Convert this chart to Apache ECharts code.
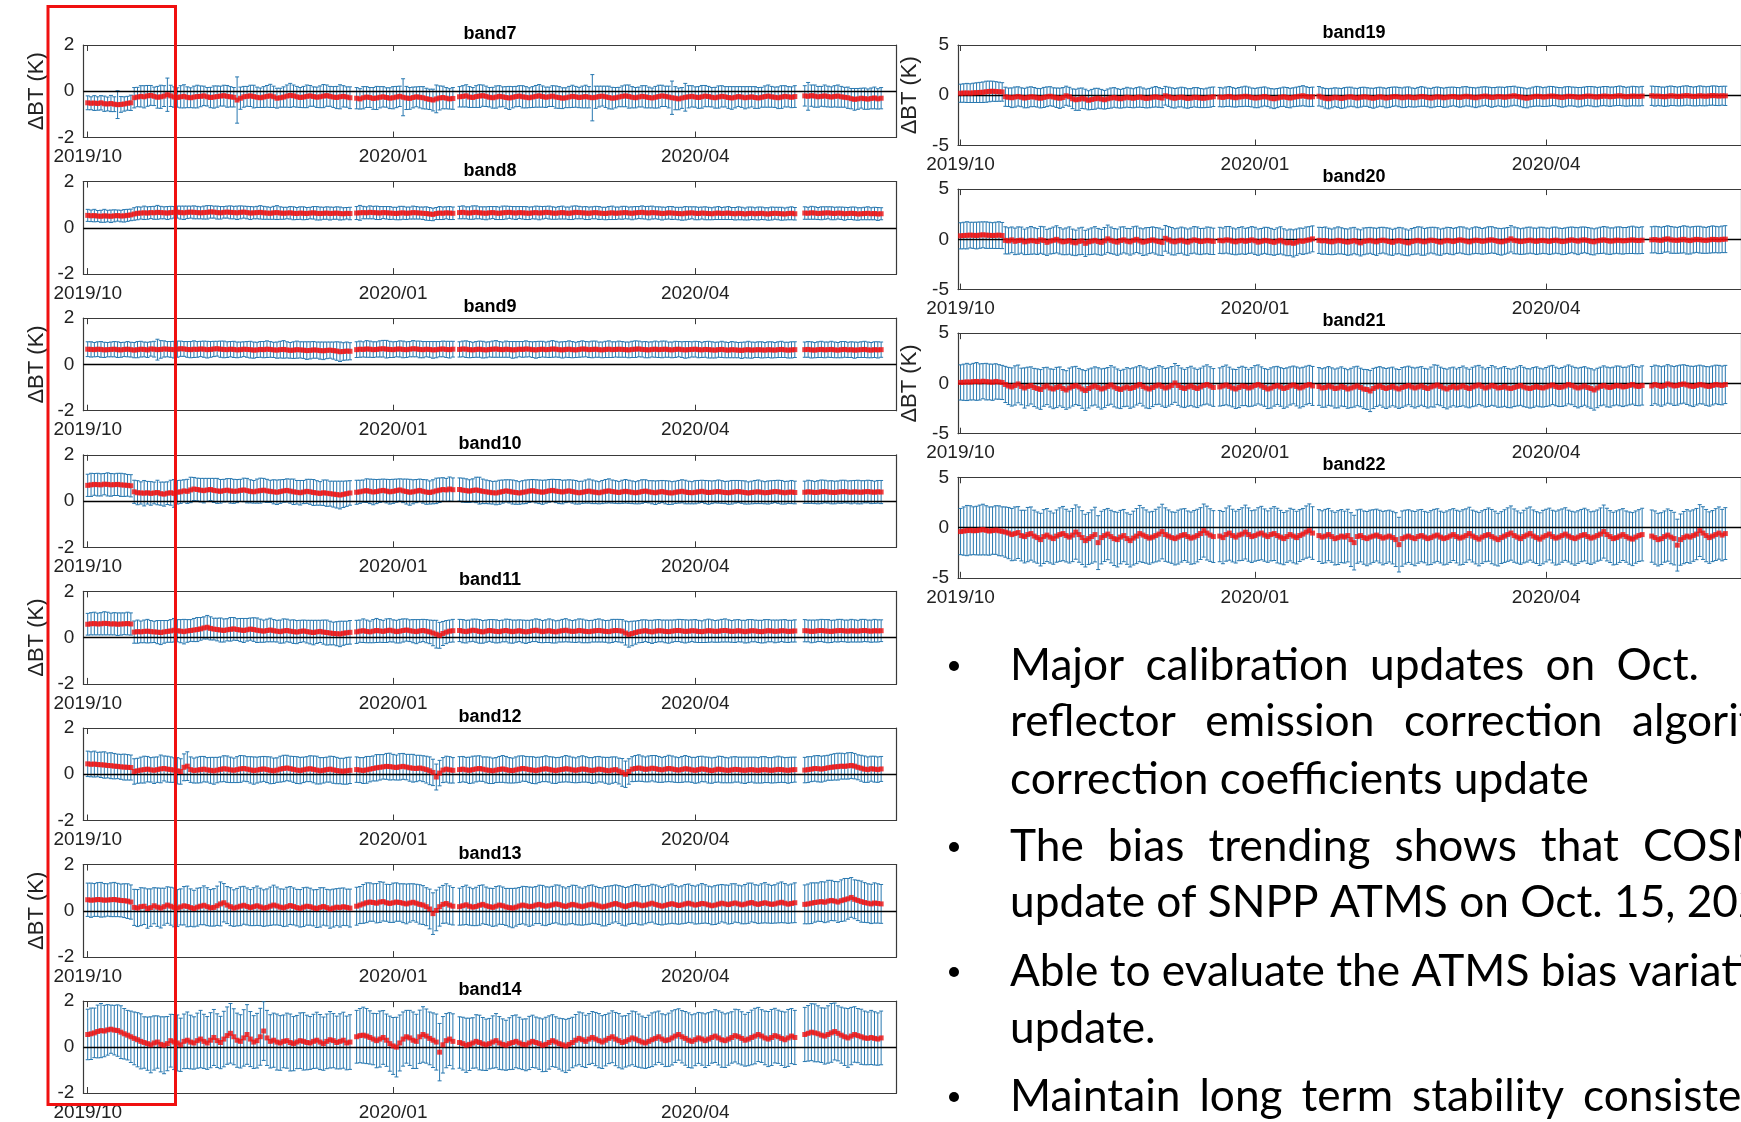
<!DOCTYPE html>
<html>
<head>
<meta charset="utf-8">
<title>ATMS bias trending</title>
<script src="https://cdn.jsdelivr.net/npm/echarts@6/dist/echarts.min.js"></script>
<style>
  html, body { margin: 0; padding: 0; background: #fff; overflow: hidden; }
  #chart { width: 1741px; height: 1122px; }
</style>
</head>
<body>
<div id="chart"></div>
<script>
// x axis = days since 2019/10/01
const tickDays = [0, 92, 183];
const tickLabels = ['2019/10', '2020/01', '2020/04'];
// days with data (gaps between runs)
const dayRuns = [[0, 79], [81, 110], [112, 213], [216, 239]];

const leftBands = ['band7', 'band8', 'band9', 'band10', 'band11', 'band12', 'band13', 'band14'];
const rightBands = ['band19', 'band20', 'band21', 'band22'];

// daily mean / half error bar, in hundredths of K
const band7Mean = [
  -50,-52,-51,-53,-50,-54,-55,-53,-56,-58,-57,-55,-52,-50,
  -28,-25,-22,-24,-20,-18,-22,-26,-24,-21,
  -15,-20,-25,-27,-24,-22,-26,-28,-25,-23,
  -22,-20,-24,-27,-25,-23,-21,-19,-22,-24,
  -26,-38,-30,-24,-22,-20,-23,-26,-28,-25,
  -22,-20,-24,-30,-28,-25,-21,-18,-20,-24,
  -27,-25,-22,-20,-23,-26,-24,-21,-19,-22,
  -25,-27,-24,-22,-25,-28,
  -30,-33,-28,-25,-27,-31,-29,-26,-24,-27,
  -30,-28,-25,-22,-26,-29,-31,-27,-24,-26,
  -28,-32,-35,-38,-33,-29,-27,-30,-33,-31,
  -24,-22,-20,-25,-27,-23,-21,-19,-22,-26,
  -28,-25,-22,-24,-27,-29,-26,-23,-21,-24,
  -26,-28,-25,-22,-20,-23,-26,-24,-21,-25,
  -27,-30,-28,-25,-22,-24,-27,-25,-23,-26,
  -28,-26,-23,-21,-24,-27,-30,-28,-25,-22,
  -20,-23,-26,-28,-25,-22,-24,-27,-29,-26,
  -23,-20,-22,-25,-28,-30,-33,-29,-26,-24,
  -22,-25,-27,-24,-21,-23,-26,-28,-25,-22,
  -24,-27,-29,-26,-23,-25,-28,-26,-24,-27,
  -29,-26,-23,-21,-24,-26,-28,-25,-22,-24,
  -26,-23,
  -20,-22,-19,-21,-24,-22,-20,-23,-25,-22,
  -21,-24,-26,-28,-32,-35,-33,-30,-32,-34,
  -31,-29,-33,-30
];
const band7Err = [
  30,28,32,29,31,33,30,35,32,60,34,31,30,33,
  44,42,46,48,45,43,40,47,50,45,
  72,46,44,42,48,50,45,43,47,49,
  45,42,40,44,48,46,43,45,47,44,
  42,100,48,45,43,46,49,44,42,45,
  47,50,46,43,41,44,48,52,47,45,
  43,46,49,45,42,44,47,50,46,43,
  45,48,52,46,44,47,
  46,44,48,45,43,47,50,46,44,42,
  45,48,46,44,80,50,47,45,43,46,
  48,45,44,47,60,52,49,46,44,47,
  44,46,48,45,43,47,49,46,44,42,
  45,48,46,43,47,50,46,44,45,48,
  46,43,45,47,49,46,44,42,45,48,
  47,45,43,46,48,45,44,47,49,46,
  100,48,45,43,46,49,47,44,42,45,
  47,50,46,44,43,46,48,45,43,47,
  49,46,44,47,72,50,47,45,60,48,
  46,44,47,49,46,44,42,45,48,46,
  44,47,49,46,43,45,48,46,44,47,
  45,43,46,48,45,44,47,49,46,44,
  45,47,
  44,60,46,48,45,43,47,45,44,46,
  48,45,43,46,44,47,45,43,46,44,
  45,47,44,46
];

const band8Mean = [
  54,52,53,51,50,52,51,50,52,53,51,52,54,56,
  60,63,64,65,64,66,65,67,66,65,
  64,66,67,68,66,65,67,68,67,66,
  65,66,67,69,68,66,65,67,68,67,
  66,65,67,68,66,64,65,66,67,65,
  64,63,65,66,64,63,64,65,63,62,
  64,63,62,64,65,63,62,63,64,62,
  63,64,62,61,63,62,
  64,65,66,65,67,66,65,64,66,65,
  64,63,62,64,65,63,64,66,65,64,
  63,62,60,58,62,64,63,65,64,63,
  66,67,65,64,66,67,65,64,63,65,
  66,64,63,65,66,67,65,64,66,65,
  64,63,65,66,64,65,67,66,64,63,
  65,66,64,63,65,67,66,65,64,63,
  65,66,64,63,62,64,65,63,64,65,
  66,64,63,65,66,67,65,64,66,65,
  64,62,63,65,64,63,62,61,63,64,
  65,63,62,64,63,62,61,63,64,62,
  63,64,62,61,63,62,60,62,63,61,
  62,63,61,60,62,63,62,61,60,62,
  63,61,
  64,63,65,64,62,63,64,65,63,62,
  64,63,61,62,63,62,60,61,62,63,
  61,62,60,61
];
const band8Err = [
  26,25,27,24,26,28,25,27,26,24,25,27,26,25,
  27,28,26,29,27,26,28,30,27,26,
  28,27,25,26,28,29,27,26,28,27,
  26,28,29,27,26,28,27,25,26,28,
  27,29,28,26,27,28,26,27,29,28,
  27,26,28,30,27,26,25,27,28,26,
  27,28,26,25,27,29,28,26,27,28,
  26,27,28,26,25,27,
  28,32,27,26,28,27,29,28,26,27,
  28,26,27,29,28,27,26,28,27,26,
  27,29,28,27,26,28,27,26,28,27,
  27,28,26,27,29,28,26,27,28,27,
  26,28,27,29,28,26,27,28,26,27,
  28,27,26,28,29,27,26,28,27,26,
  27,28,26,27,29,28,27,26,28,27,
  26,27,28,26,27,28,29,27,26,28,
  27,26,28,27,26,28,27,29,28,26,
  27,28,26,27,28,26,27,28,29,27,
  26,28,27,26,28,27,26,27,28,26,
  27,28,26,27,28,27,26,28,27,26,
  28,27,26,27,28,26,27,28,26,27,
  28,27,
  27,26,28,27,26,28,27,26,28,27,
  26,27,28,26,27,28,27,26,27,28,
  26,27,28,26
];

const band9Mean = [
  66,65,64,66,65,63,64,65,66,64,63,65,66,64,
  62,64,66,65,63,67,66,64,65,67,
  66,65,64,66,68,67,65,64,66,65,
  67,66,64,65,67,68,66,65,64,66,
  65,63,64,66,65,64,62,63,65,64,
  66,65,63,62,64,65,63,61,62,64,
  63,62,60,61,63,62,60,59,61,62,
  60,58,55,56,58,57,
  64,66,65,67,66,64,65,67,68,66,
  65,64,66,67,65,64,66,68,67,65,
  64,66,65,63,64,66,67,65,64,66,
  65,67,66,64,63,65,66,64,63,65,
  66,67,65,64,66,65,63,64,66,65,
  67,66,64,63,65,66,64,65,67,66,
  64,63,65,66,64,63,65,67,66,64,
  65,66,64,63,65,66,64,65,66,65,
  64,63,65,66,67,65,64,63,65,66,
  64,65,66,64,63,65,66,64,63,64,
  65,66,64,63,65,64,63,62,64,65,
  63,62,64,63,62,61,63,64,62,63,
  64,63,62,64,63,62,64,65,63,62,
  63,64,
  64,65,63,62,64,65,63,64,65,63,
  62,64,65,63,64,62,63,64,65,63,
  62,64,63,64
];
const band9Err = [
  32,33,31,32,34,33,31,32,33,34,32,31,33,32,
  33,35,34,32,33,31,34,45,38,35,
  33,34,36,35,33,32,34,35,36,34,
  33,35,36,34,33,32,35,36,34,33,
  35,34,33,32,34,36,35,33,34,35,
  36,34,33,35,36,38,35,34,36,37,
  35,36,38,37,36,35,37,38,36,35,
  37,40,42,38,39,37,
  34,35,33,36,35,34,33,35,36,38,
  35,34,33,35,36,34,33,35,34,36,
  35,33,34,36,35,33,34,35,36,34,
  33,34,36,35,33,34,35,36,34,33,
  35,36,34,33,35,34,36,35,33,34,
  35,33,34,36,35,34,33,35,36,34,
  33,35,34,36,35,33,34,35,33,34,
  36,35,33,34,35,36,34,33,35,34,
  33,34,35,36,34,33,35,34,33,35,
  34,36,35,33,34,35,33,34,36,35,
  33,34,35,33,34,36,35,34,33,35,
  34,33,35,34,33,35,34,36,35,33,
  34,35,33,34,35,33,34,35,33,34,
  35,34,
  33,34,35,33,34,35,34,33,35,34,
  33,35,34,33,34,35,33,34,35,34,
  33,34,35,33
];

const band10Mean = [
  68,70,72,71,70,73,72,70,71,72,70,69,68,66,
  40,36,35,34,36,33,35,37,32,30,
  34,36,33,38,40,44,42,48,52,50,
  47,45,48,50,46,44,42,45,47,44,
  42,43,46,48,45,42,40,43,45,47,
  44,42,40,38,41,44,46,43,40,38,
  36,39,42,40,37,35,33,36,34,32,
  30,28,26,29,32,35,
  38,40,43,45,42,39,41,44,46,43,
  40,42,45,48,44,41,38,40,43,46,
  42,39,37,40,44,47,50,48,52,49,
  50,47,45,43,46,48,45,42,40,38,
  36,35,38,41,44,42,39,37,35,38,
  40,43,45,42,40,38,41,44,46,43,
  41,39,42,44,41,38,36,38,41,43,
  40,38,36,39,42,44,41,39,37,40,
  42,40,38,36,38,41,43,40,38,36,
  39,41,38,36,35,38,40,42,39,37,
  36,38,40,42,39,37,38,40,41,39,
  37,36,38,40,41,39,37,35,37,39,
  40,38,36,37,39,41,40,38,36,38,
  39,37,
  38,40,39,37,38,40,41,39,38,37,
  39,40,41,39,38,40,39,38,40,41,
  39,38,40,39
];
const band10Err = [
  48,50,47,49,48,46,50,49,47,48,50,49,47,48,
  50,52,48,55,49,51,47,53,50,52,
  49,54,60,51,50,48,52,55,50,49,
  51,53,50,48,52,54,51,49,50,53,
  52,50,48,51,53,50,49,52,54,51,
  50,48,52,53,51,49,50,52,55,51,
  53,50,52,54,56,53,51,55,57,54,
  56,58,60,57,55,53,
  52,50,48,51,53,55,52,50,49,51,
  53,52,50,48,51,54,56,52,50,49,
  51,53,50,52,55,53,51,50,52,51,
  50,52,51,49,50,55,58,53,51,50,
  49,51,52,50,48,50,52,51,49,50,
  51,49,48,50,51,52,50,49,48,50,
  52,51,49,48,50,51,49,48,50,52,
  51,49,48,50,51,52,50,49,48,50,
  51,50,49,48,50,51,49,48,50,51,
  49,48,50,51,49,48,49,50,51,49,
  48,50,49,48,50,51,49,48,50,49,
  48,50,51,49,48,49,50,48,49,50,
  51,49,48,50,49,48,50,51,49,48,
  50,49,
  48,50,49,48,50,51,49,48,50,49,
  48,50,49,48,50,49,51,50,48,49,
  50,48,49,50
];

const band11Mean = [
  58,60,61,59,60,62,61,59,60,58,59,60,61,59,
  24,26,25,27,28,26,25,24,22,25,
  27,29,32,30,28,26,29,31,33,35,
  38,42,45,40,37,35,33,31,34,36,
  38,35,33,31,34,37,35,32,30,28,
  31,33,30,28,26,29,31,28,26,24,
  27,29,26,24,22,25,27,24,22,20,
  18,17,16,19,21,23,
  25,28,30,27,25,28,31,29,27,30,
  32,29,26,28,31,33,30,28,26,29,
  31,28,25,20,15,10,18,24,28,30,
  31,28,26,29,32,30,27,25,28,31,
  29,27,26,29,31,28,26,28,30,27,
  25,27,30,32,29,26,28,30,27,25,
  28,30,32,29,27,28,31,29,27,26,
  28,30,31,29,27,26,29,31,30,28,
  20,14,18,22,26,28,30,27,25,28,
  30,29,27,26,28,30,31,29,27,28,
  30,29,27,26,28,30,29,27,28,30,
  31,29,27,28,30,28,26,28,30,29,
  27,26,28,30,29,27,28,30,29,27,
  28,29,
  30,29,27,28,30,31,29,28,27,29,
  30,31,29,28,30,29,28,30,31,29,
  28,30,29,30
];
const band11Err = [
  47,48,49,47,48,50,49,47,48,49,48,47,49,48,
  48,50,47,49,51,48,46,50,52,49,
  47,49,51,48,50,53,49,47,50,52,
  49,48,51,50,47,49,52,50,48,51,
  49,47,50,52,49,48,51,53,50,48,
  49,51,48,47,50,52,49,48,51,50,
  48,47,49,51,53,50,48,52,54,51,
  49,52,55,52,50,51,
  50,48,51,49,47,50,52,49,48,51,
  50,48,49,51,50,48,47,50,52,49,
  48,50,51,55,60,56,52,50,48,49,
  48,50,49,47,48,50,51,49,48,47,
  49,50,48,47,49,51,50,48,47,49,
  50,48,47,49,50,48,49,51,50,48,
  47,49,50,48,47,49,50,51,49,48,
  47,49,50,48,47,49,50,48,49,50,
  52,55,53,50,48,49,47,48,50,49,
  48,47,49,50,48,47,48,49,50,48,
  47,49,48,47,49,50,48,47,48,49,
  50,48,47,49,48,47,49,50,48,47,
  48,49,50,48,47,49,48,47,49,48,
  47,48,
  48,47,49,48,47,48,49,50,48,47,
  49,48,47,48,49,48,47,49,48,47,
  48,49,48,47
];

const band12Mean = [
  45,43,44,42,41,40,38,37,35,34,32,31,30,29,
  12,15,18,20,22,19,17,20,23,25,
  22,20,18,15,12,30,35,20,16,18,
  20,22,19,17,15,18,21,24,22,19,
  17,20,23,25,22,19,16,18,21,23,
  20,17,15,18,22,25,27,24,21,18,
  16,19,22,24,21,18,15,17,20,22,
  19,16,14,13,15,17,
  20,18,16,19,22,25,28,30,32,34,
  33,31,29,32,34,31,28,26,25,27,
  24,20,15,8,-12,5,18,22,19,17,
  20,22,19,17,20,23,25,22,19,17,
  15,18,21,23,20,17,16,19,22,25,
  23,20,18,16,19,22,24,21,18,16,
  19,21,24,22,19,17,20,23,21,18,
  16,19,22,20,17,15,18,20,14,8,
  0,12,22,25,27,24,21,23,26,24,
  21,19,22,25,23,20,18,21,24,22,
  19,17,20,23,21,18,16,19,22,20,
  18,17,19,21,20,18,17,19,20,18,
  17,19,20,18,17,19,21,20,18,17,
  19,20,
  18,20,22,25,24,22,25,28,30,32,
  33,35,34,36,38,35,30,26,22,20,
  24,22,20,23
];
const band12Err = [
  55,54,56,53,55,57,54,56,55,53,54,56,55,54,
  55,54,56,58,55,53,57,55,60,54,
  56,55,53,57,55,58,62,55,54,56,
  57,55,53,56,58,55,54,56,57,55,
  53,56,58,55,54,57,59,56,55,54,
  56,58,55,53,56,57,55,54,56,58,
  57,55,54,56,58,60,57,55,54,56,
  58,57,55,56,58,57,
  55,54,56,58,55,54,57,55,53,56,
  58,55,54,57,56,55,58,60,57,55,
  56,58,60,57,56,55,54,56,57,55,
  56,55,54,57,58,56,55,53,56,57,
  55,54,56,58,57,55,54,56,57,55,
  54,56,58,57,55,54,56,55,57,56,
  54,55,57,56,55,54,56,57,55,54,
  56,57,55,54,56,58,57,55,56,60,
  57,55,54,56,57,55,54,56,55,57,
  56,54,55,57,56,55,54,56,57,55,
  54,56,57,55,54,56,55,54,56,57,
  55,54,56,55,54,56,57,55,54,56,
  55,57,56,54,55,56,57,55,54,56,
  55,54,
  55,56,54,55,57,56,55,54,56,57,
  58,56,55,57,56,55,54,56,57,55,
  54,56,55,54
];

const band13Mean = [
  48,46,47,49,48,46,47,48,49,47,45,44,42,38,
  15,12,18,20,10,14,22,16,12,18,
  25,20,15,12,17,22,19,14,10,16,
  20,24,18,13,15,22,30,35,25,18,
  12,16,20,24,19,14,18,22,17,12,
  15,20,25,21,16,13,18,23,19,14,
  11,16,20,18,13,10,15,19,14,8,
  12,16,14,18,15,12,
  20,25,30,35,38,36,33,38,40,35,
  32,35,38,36,33,30,34,37,33,28,
  25,18,8,-12,2,18,28,32,25,20,
  18,22,26,20,16,19,24,28,22,18,
  15,20,25,22,17,14,12,16,21,25,
  22,18,20,25,28,24,20,22,26,30,
  27,22,19,24,28,25,21,18,22,26,
  29,25,21,17,20,24,28,32,27,22,
  18,23,27,30,26,22,25,29,33,28,
  24,20,24,28,31,27,23,26,30,33,
  29,25,28,32,30,26,22,25,29,33,
  30,27,31,34,30,26,29,33,36,31,
  28,32,35,31,28,30,34,37,33,29,
  32,35,
  28,30,33,36,38,40,37,42,45,42,
  38,44,48,52,58,50,45,40,36,33,
  30,34,32,30
];
const band13Err = [
  72,74,71,73,75,72,70,73,74,72,71,73,75,74,
  78,80,82,79,85,81,78,83,86,80,
  79,82,84,80,78,83,88,81,79,82,
  80,84,82,79,81,85,95,83,80,82,
  79,81,84,82,80,78,82,85,81,79,
  80,83,86,82,79,81,84,82,80,79,
  81,84,82,80,78,82,85,81,79,83,
  82,80,84,81,79,82,
  82,80,84,86,83,81,85,88,84,80,
  82,85,83,81,84,86,83,80,82,85,
  84,82,86,90,88,84,82,85,83,81,
  80,83,85,82,80,83,86,84,81,80,
  82,85,83,81,80,83,85,82,80,81,
  83,85,82,80,83,86,84,81,80,82,
  84,82,80,81,83,85,82,80,82,84,
  83,81,80,82,85,83,81,80,82,84,
  83,81,82,84,86,83,81,80,82,84,
  83,81,82,84,85,83,81,82,84,83,
  81,82,84,86,83,81,82,84,83,81,
  82,84,86,83,81,82,85,87,84,82,
  83,85,87,84,82,83,86,88,85,83,
  84,86,
  84,86,88,85,83,86,88,90,87,85,
  88,90,92,88,86,84,87,89,86,84,
  85,87,85,84
];

const band14Mean = [
  55,58,62,68,72,70,75,78,74,72,65,58,52,45,
  38,32,25,20,15,10,18,22,12,8,
  15,28,22,18,10,25,30,22,18,28,
  35,25,18,30,42,28,20,35,50,60,
  45,30,25,40,55,35,22,28,45,70,
  40,25,30,22,18,25,28,20,15,22,
  28,25,20,18,25,30,22,15,25,32,
  28,20,25,30,18,22,
  45,50,52,48,42,35,28,35,42,30,
  15,5,0,18,35,45,40,30,25,45,
  55,48,38,30,22,-22,10,28,35,25,
  20,15,8,12,18,25,20,14,10,15,
  22,28,18,12,8,15,20,25,18,12,
  10,18,25,20,15,8,12,20,28,22,
  15,10,5,12,20,30,38,32,25,35,
  42,35,28,22,30,38,45,35,28,20,
  25,32,40,35,28,22,18,25,32,38,
  45,35,28,32,40,48,55,45,38,30,
  25,32,40,35,28,35,42,48,40,32,
  28,35,42,50,45,38,30,35,42,48,
  55,48,40,35,42,50,45,38,32,40,
  48,42,
  55,60,65,62,58,52,48,55,62,68,
  60,52,45,40,48,55,50,45,40,38,
  42,38,35,40
];
const band14Err = [
  110,112,108,115,118,112,110,105,108,112,115,110,108,112,
  115,118,120,112,116,122,118,114,120,124,
  118,115,120,122,116,119,123,117,114,120,
  125,118,115,120,122,117,114,121,125,130,
  122,118,116,123,130,120,115,119,124,128,
  120,116,118,122,119,115,120,124,118,116,
  121,125,119,115,118,122,120,116,119,123,
  118,115,120,122,117,119,
  115,118,122,120,116,112,118,122,117,114,
  120,124,130,122,118,115,120,123,118,116,
  121,118,115,119,122,125,123,118,115,120,
  112,115,118,114,110,116,119,115,112,110,
  114,118,115,111,109,113,117,115,112,110,
  113,116,114,111,112,115,118,116,113,110,
  111,114,116,113,110,112,115,117,114,111,
  113,116,118,115,112,110,113,116,118,115,
  112,114,117,119,116,113,111,114,117,115,
  112,110,113,116,118,115,112,114,117,119,
  116,113,111,114,117,115,112,115,118,120,
  117,114,112,115,118,116,113,116,119,121,
  118,115,117,120,122,119,116,118,121,124,
  120,118,
  118,121,124,126,122,119,122,125,128,124,
  120,122,125,128,125,121,118,120,117,115,
  118,116,114,117
];

const band19Mean = [
  20,22,23,21,24,26,28,30,35,38,40,37,35,33,
  -15,-20,-25,-18,-12,-20,-28,-22,-15,-18,
  -25,-30,-22,-15,-10,-18,-25,-30,-22,-5,
  -15,-35,-45,-40,-30,-38,-50,-42,-35,-30,
  -38,-45,-35,-28,-22,-30,-35,-28,-20,-25,
  -30,-22,-18,-25,-32,-28,-20,-15,-22,-28,
  -5,-15,-25,-30,-22,-18,-25,-32,-28,-20,
  -22,-28,-30,-25,-20,-15,
  -18,-22,-15,-12,-20,-25,-18,-15,-10,-15,
  -22,-28,-25,-18,-12,-20,-30,-35,-28,-20,
  -15,-22,-28,-20,-15,-10,-5,-12,-18,-15,
  -10,-20,-30,-35,-28,-20,-25,-32,-25,-18,
  -15,-22,-28,-20,-15,-18,-25,-30,-22,-15,
  -20,-28,-22,-15,-12,-18,-25,-20,-15,-22,
  -25,-18,-12,-15,-22,-28,-20,-15,-18,-25,
  -20,-15,-12,-18,-22,-15,-10,-15,-20,-25,
  -18,-12,-8,-15,-22,-18,-12,-15,-20,-15,
  -10,-5,-12,-18,-25,-30,-22,-15,-10,-12,
  -18,-15,-10,-8,-12,-18,-22,-15,-10,-12,
  -15,-20,-18,-12,-8,-10,-15,-18,-12,-8,
  -10,-15,-12,-8,-5,-10,-15,-12,-8,-10,
  -12,-8,
  -5,-10,-8,-12,-15,-10,-5,-8,-12,-10,
  -6,-3,-8,-12,-10,-5,-8,-10,-6,-3,
  -5,-8,-5,-6
];
const band19Err = [
  90,92,95,93,96,98,100,102,105,103,100,98,95,92,
  95,92,98,100,96,94,97,102,99,95,
  93,96,100,98,95,92,97,101,98,95,
  94,98,105,110,102,98,95,100,104,99,
  96,93,97,100,98,95,93,96,99,97,
  95,98,101,97,94,96,99,102,98,95,
  93,96,99,97,95,98,100,97,94,96,
  98,95,93,96,99,97,
  96,94,97,99,96,93,95,98,100,97,
  94,96,99,97,95,93,96,98,95,93,
  96,99,97,94,96,98,100,97,95,96,
  97,95,98,100,97,94,96,99,101,98,
  95,93,96,98,95,93,96,99,97,95,
  94,97,99,96,94,96,98,101,98,95,
  93,96,98,95,93,96,98,97,94,96,
  98,95,93,95,97,99,96,94,96,98,
  97,95,93,96,98,95,94,96,98,100,
  97,95,93,96,98,95,94,96,98,96,
  94,96,98,95,93,95,97,99,96,94,
  95,97,96,94,95,97,99,96,94,95,
  97,96,94,95,97,96,94,95,97,96,
  95,96,
  96,98,95,94,96,98,97,95,94,96,
  98,97,95,94,96,98,97,95,94,96,
  97,95,94,96
];

const band20Mean = [
  35,38,40,42,40,38,42,45,42,40,38,40,42,38,
  -10,-15,-5,-20,-12,-8,-25,-18,-10,-15,
  -22,-5,-12,-30,-18,-10,0,-15,-25,-20,
  -12,-28,-35,-20,-15,-40,-25,-18,-10,-22,
  -30,-15,5,-10,-20,-28,-12,-5,-18,-25,
  -10,0,-15,-28,-20,-12,-5,-15,-22,-30,
  10,-5,-18,-25,-15,-8,-20,-28,-15,-5,
  -12,-22,-18,-10,-15,-20,
  -10,-15,-5,-8,-18,-25,-15,-10,-20,-12,
  -5,-15,-28,-20,-10,-15,-22,-30,-18,-10,
  -25,-35,-30,-40,-28,-15,-20,-10,-5,5,
  -10,-15,-12,-20,-25,-18,-10,-15,-22,-28,
  -20,-12,-25,-35,-20,-15,-10,-18,-25,-12,
  -8,-15,-22,-30,-18,-12,-20,-28,-35,-22,
  -15,-10,-18,-25,-15,-8,-12,-20,-28,-18,
  -10,-15,-22,-12,-5,-10,-18,-25,-15,-8,
  -12,-20,-15,-8,-5,-12,-20,-25,-18,-10,
  5,-10,-15,-22,-18,-12,-8,-15,-20,-12,
  -10,-15,-20,-12,-8,-15,-22,-18,-10,-5,
  -12,-18,-8,-5,-12,-20,-25,-15,-10,-5,
  -12,-18,-15,-8,-10,-15,-12,-8,-5,-10,
  -12,-8,
  -5,-2,-8,-10,0,5,-5,-8,-10,-5,
  0,-8,-12,-5,0,-3,-8,-10,-5,0,
  -2,-5,0,2
];
const band20Err = [
  130,132,135,128,130,133,131,129,132,130,128,131,133,130,
  135,130,128,132,136,130,127,133,138,131,
  129,134,137,130,128,132,135,131,128,133,
  136,130,127,133,135,130,128,132,136,131,
  129,133,137,132,128,131,135,130,127,132,
  135,131,128,133,136,130,129,132,135,131,
  128,132,136,131,127,130,134,131,128,132,
  135,130,128,133,135,131,
  130,128,132,136,131,129,133,135,130,128,
  132,135,131,128,130,134,131,129,132,135,
  130,128,132,135,131,128,130,133,131,129,
  130,133,135,131,128,132,134,130,128,131,
  134,131,128,130,133,131,129,132,135,131,
  128,130,133,130,128,131,134,131,128,130,
  132,135,140,133,130,128,132,135,131,128,
  130,133,131,128,130,133,131,128,130,132,
  131,128,130,133,131,128,130,132,130,128,
  131,133,130,128,130,132,130,128,131,133,
  130,128,131,133,130,128,130,132,130,128,
  131,134,131,128,130,132,130,128,131,133,
  135,132,129,131,134,132,130,133,136,133,
  131,133,
  130,132,134,131,128,130,133,131,129,132,
  135,138,134,131,130,133,131,129,132,134,
  131,130,132,134
];

const band21Mean = [
  10,12,15,13,18,20,15,22,18,15,12,20,15,10,
  -10,-25,-35,-20,-5,-30,-45,-30,-20,-40,
  -50,-60,-35,-25,-45,-55,-40,-30,-50,-65,
  -45,-30,-20,-35,-55,-70,-50,-35,-25,-40,
  -55,-45,-30,-15,-35,-50,-60,-45,-35,-50,
  -40,-25,-10,-30,-45,-55,-40,-25,-15,-30,
  -45,-35,-20,5,-20,-40,-50,-35,-25,-40,
  -50,-35,-20,-10,-25,-40,
  -35,-25,-15,-30,-45,-55,-40,-25,-30,-45,
  -35,-20,-10,-25,-40,-55,-45,-30,-20,-35,
  -50,-40,-25,-15,-30,-45,-35,-20,-10,-25,
  -30,-45,-40,-25,-35,-50,-45,-30,-40,-55,
  -45,-35,-25,-40,-55,-60,-75,-50,-35,-25,
  -40,-50,-40,-30,-45,-55,-40,-30,-20,-35,
  -45,-35,-25,-40,-50,-35,-25,-15,-30,-45,
  -55,-40,-30,-45,-35,-25,-40,-50,-35,-25,
  -15,-30,-45,-35,-20,-30,-45,-40,-30,-45,
  -50,-40,-30,-20,-35,-45,-50,-40,-30,-40,
  -45,-35,-25,-15,-30,-40,-35,-25,-10,-20,
  -35,-45,-35,-25,-40,-50,-65,-45,-30,-20,
  -35,-40,-30,-20,-25,-35,-30,-20,-10,-25,
  -30,-20,
  -25,-10,-20,-30,-20,-5,-15,-25,-20,-10,
  -5,-15,-25,-30,-20,-10,-15,-25,-30,-20,
  -10,-15,-20,-10
];
const band21Err = [
  175,180,185,178,182,188,180,175,182,178,180,176,172,170,
  180,185,190,195,188,182,200,192,185,190,
  195,198,192,186,190,196,200,194,188,192,
  198,195,190,185,192,198,194,188,190,196,
  200,195,188,192,198,194,190,186,192,197,
  195,190,188,194,199,195,190,186,192,196,
  194,190,188,193,198,194,190,192,196,193,
  190,188,192,195,191,188,
  190,195,198,192,188,194,200,196,190,186,
  192,197,194,190,188,195,200,196,190,192,
  198,195,190,188,194,199,196,192,190,194,
  188,192,196,193,190,194,198,195,190,192,
  196,200,196,192,195,198,205,200,195,192,
  196,199,195,192,190,194,198,195,192,196,
  199,196,192,190,194,198,210,196,192,195,
  198,195,192,190,194,198,195,192,196,199,
  195,192,190,194,198,195,192,195,198,195,
  192,190,194,198,196,192,195,198,195,192,
  190,194,198,195,192,190,194,197,194,192,
  195,198,195,192,194,197,200,196,192,195,
  198,196,192,194,197,195,192,194,196,194,
  192,195,
  194,192,195,197,194,192,190,194,196,193,
  191,194,197,200,195,192,190,193,196,194,
  192,195,193,190
];

const band22Mean = [
  -40,-35,-30,-28,-32,-30,-25,-20,-28,-35,-30,-25,-32,-38,
  -45,-55,-70,-60,-50,-80,-90,-70,-60,-85,
  -100,-120,-90,-75,-95,-110,-85,-70,-60,-80,
  -95,-75,-45,-70,-100,-130,-110,-90,-70,-150,
  -100,-80,-65,-90,-110,-120,-95,-80,-110,-130,
  -105,-85,-60,-75,-90,-105,-95,-80,-65,-40,
  -70,-85,-100,-110,-95,-80,-70,-90,-105,-95,
  -80,-60,-30,-55,-75,-90,
  -85,-100,-70,-55,-80,-95,-75,-65,-45,-70,
  -90,-80,-65,-55,-75,-90,-70,-60,-80,-95,
  -110,-90,-70,-85,-100,-80,-65,-45,-30,-55,
  -80,-95,-85,-70,-90,-110,-100,-85,-95,-80,
  -120,-150,-90,-80,-100,-110,-95,-85,-75,-90,
  -105,-95,-85,-100,-120,-170,-110,-95,-85,-100,
  -110,-90,-80,-95,-110,-100,-85,-75,-95,-110,
  -100,-85,-70,-90,-105,-95,-80,-60,-85,-100,
  -115,-95,-80,-70,-90,-105,-120,-100,-85,-70,
  -55,-80,-95,-110,-90,-75,-60,-85,-100,-115,
  -95,-80,-65,-90,-105,-95,-80,-65,-85,-100,
  -110,-95,-80,-70,-90,-105,-95,-80,-65,-40,
  -70,-90,-110,-100,-85,-70,-90,-105,-115,-95,
  -80,-70,
  -85,-100,-120,-110,-90,-75,-95,-110,-175,-120,
  -100,-85,-95,-80,-65,-30,-55,-80,-100,-85,
  -70,-55,-75,-60
];
const band22Err = [
  230,240,250,245,238,242,248,252,245,240,236,242,248,244,
  250,255,260,265,258,252,262,270,265,258,
  255,262,268,264,258,255,260,266,270,262,
  258,264,270,275,268,262,258,265,272,268,
  262,258,255,262,268,272,266,260,256,262,
  268,274,280,272,265,260,256,262,268,272,
  266,260,256,262,268,264,258,255,260,265,
  262,258,264,268,262,258,
  255,260,265,270,262,258,255,262,268,265,
  258,255,262,266,260,256,262,268,272,266,
  260,256,262,266,262,258,255,260,265,262,
  258,262,266,260,256,262,268,264,258,262,
  268,272,266,262,265,270,268,262,258,262,
  266,262,258,262,268,272,275,268,262,266,
  270,265,260,256,262,268,266,262,258,262,
  265,262,258,262,268,272,266,262,258,262,
  266,262,260,265,270,268,262,258,262,266,
  270,265,260,256,262,268,265,260,258,262,
  266,262,258,262,268,270,265,262,258,262,
  265,262,260,262,266,262,258,255,260,264,
  262,258,262,266,262,258,255,260,264,260,
  258,262,
  260,265,262,258,255,260,265,262,258,255,
  260,263,260,256,255,258,262,260,256,254,
  258,260,256,258
];

// ---- layout ----
const LEFT = { x: 83.4, w: 813, top: 45, step: 136.6, h: 92.5, ymax: 2, xmin: -1.3, xmax: 243.6, nameX: 37, titleGap: 11 };
const RIGHT = { x: 958, w: 792, top: 45, step: 144.1, h: 100.5, ymax: 5, xmin: -0.8, xmax: 243.9, nameX: 910, titleGap: 12 };

const days = [];
dayRuns.forEach(function (r) { for (let d = r[0]; d <= r[1]; d++) days.push(d); });

const panels = [
  { mean: band7Mean, err: band7Err }, { mean: band8Mean, err: band8Err },
  { mean: band9Mean, err: band9Err }, { mean: band10Mean, err: band10Err },
  { mean: band11Mean, err: band11Err }, { mean: band12Mean, err: band12Err },
  { mean: band13Mean, err: band13Err }, { mean: band14Mean, err: band14Err },
  { mean: band19Mean, err: band19Err }, { mean: band20Mean, err: band20Err },
  { mean: band21Mean, err: band21Err }, { mean: band22Mean, err: band22Err }
];
panels.forEach(function (p, i) {
  const isLeft = i < leftBands.length;
  p.name = isLeft ? leftBands[i] : rightBands[i - leftBands.length];
  p.row = isLeft ? i : i - leftBands.length;
  p.L = isLeft ? LEFT : RIGHT;
});

const labelFont = '"Liberation Sans", Arial, sans-serif';
const axisColor = '#3a3a3a';
const barColor = '#2878b0';
const dotColor = '#f01010';

function renderErrorBar(params, api) {
  const x = api.value(0);
  const hi = api.coord([x, api.value(2)]);
  const lo = api.coord([x, api.value(1)]);
  const c = 2;
  return {
    type: 'group',
    children: [
      { type: 'line', shape: { x1: hi[0], y1: hi[1], x2: lo[0], y2: lo[1] }, style: { stroke: barColor, lineWidth: 1 } },
      { type: 'line', shape: { x1: hi[0] - c, y1: hi[1], x2: hi[0] + c, y2: hi[1] }, style: { stroke: barColor, lineWidth: 1 } },
      { type: 'line', shape: { x1: lo[0] - c, y1: lo[1], x2: lo[0] + c, y2: lo[1] }, style: { stroke: barColor, lineWidth: 1 } }
    ]
  };
}

const grid = [], xAxis = [], yAxis = [], series = [], graphics = [];

panels.forEach(function (p, i) {
  const L = p.L;
  const top = L.top + L.step * p.row;
  grid.push({ left: L.x, top: top, width: L.w, height: L.h });

  const xBase = {
    type: 'value', gridIndex: i, min: L.xmin, max: L.xmax,
    splitLine: { show: false },
    axisLine: { onZero: false, lineStyle: { color: axisColor, width: 1.2 } },
    axisTick: { inside: true, length: 6, customValues: tickDays, lineStyle: { color: axisColor } }
  };
  xAxis.push(Object.assign({}, xBase, {
    position: 'bottom',
    axisLabel: {
      customValues: tickDays,
      formatter: function (v) { const k = tickDays.indexOf(v); return k >= 0 ? tickLabels[k] : ''; },
      margin: 10, fontSize: 19, fontFamily: labelFont, color: '#222'
    }
  }));
  xAxis.push(Object.assign({}, xBase, { position: 'top', axisLabel: { show: false } }));

  const yBase = {
    type: 'value', gridIndex: i, min: -L.ymax, max: L.ymax, interval: L.ymax,
    splitLine: { show: false },
    axisLine: { show: true, onZero: false, lineStyle: { color: axisColor, width: 1.2 } },
    axisTick: { show: true, inside: true, length: 5, lineStyle: { color: axisColor } }
  };
  yAxis.push(Object.assign({}, yBase, {
    position: 'left',
    axisLabel: { margin: 9, fontSize: 19, fontFamily: labelFont, color: '#222', showMinLabel: true, showMaxLabel: true }
  }));
  yAxis.push(Object.assign({}, yBase, { position: 'right', axisLabel: { show: false } }));

  const bars = [], pts = [];
  days.forEach(function (d, k) {
    if (k >= p.mean.length || k >= p.err.length) return;
    const m = p.mean[k] / 100, e = p.err[k] / 100;
    bars.push([d, m - e, m + e]);
    pts.push([d, m]);
  });

  series.push({
    type: 'custom', name: p.name, xAxisIndex: 2 * i, yAxisIndex: 2 * i,
    z: 1, silent: true, clip: true, renderItem: renderErrorBar,
    encode: { x: 0, y: [1, 2] }, data: bars
  });
  series.push({
    type: 'scatter', name: p.name, xAxisIndex: 2 * i, yAxisIndex: 2 * i,
    z: 3, silent: true, symbol: 'rect', symbolSize: 5,
    itemStyle: { color: dotColor }, data: pts,
    markLine: {
      silent: true, symbol: 'none', z: 2, animation: false,
      label: { show: false },
      lineStyle: { color: '#000', width: 1.3, type: 'solid' },
      data: [{ yAxis: 0 }]
    }
  });

  // panel title
  graphics.push({
    type: 'text', x: L.x + L.w / 2, y: top - L.titleGap,
    style: { text: p.name, fontSize: 18, fontWeight: 'bold', fontFamily: labelFont, fill: '#000', align: 'center', verticalAlign: 'middle' }
  });
  // y axis name on every other panel
  if (p.row % 2 === 0) {
    graphics.push({
      type: 'text', x: L.nameX, y: top + L.h / 2, rotation: Math.PI / 2,
      style: { text: '\u0394BT (K)', fontSize: 22, fontFamily: labelFont, fill: '#222', align: 'center', verticalAlign: 'middle' }
    });
  }
});

// ---- bullet notes (justified lines run past the right edge) ----
const noteFamily = 'Lato, "Open Sans", sans-serif';
const textLeft = 1010;
const mctx = document.createElement('canvas').getContext('2d');
mctx.font = '40px ' + noteFamily;
const noteSize = 40 * 579 / mctx.measureText('correction coefficients update').width;
mctx.font = noteSize + 'px ' + noteFamily;

const notes = [
  { y: 666, bullet: true, words: ['Major', 'calibration', 'updates', 'on', 'Oct.'], lastEnd: 1699 },
  { y: 722, words: ['reflector', 'emission', 'correction', 'algorithm'], lastStart: 1632 },
  { y: 780, words: ['correction coefficients update'] },
  { y: 847, bullet: true, words: ['The', 'bias', 'trending', 'shows', 'that', 'COSMIC-2'], lastStart: 1643 },
  { y: 903, words: ['update of SNPP ATMS on Oct. 15, 2020'] },
  { y: 972, bullet: true, words: ['Able to evaluate the ATMS bias variation'] },
  { y: 1029, words: ['update.'] },
  { y: 1097, bullet: true, words: ['Maintain', 'long', 'term', 'stability', 'consistent'], lastStart: 1583 }
];
notes.forEach(function (ln) {
  if (ln.bullet) {
    graphics.push({ type: 'circle', shape: { cx: 954, cy: ln.y, r: 5 }, style: { fill: '#000' } });
  }
  const widths = ln.words.map(function (w) { return mctx.measureText(w).width; });
  const n = ln.words.length;
  let gap = 0;
  if (n > 1) {
    const before = widths.slice(0, n - 1).reduce(function (a, b) { return a + b; }, 0);
    if (ln.lastStart) gap = (ln.lastStart - textLeft - before) / (n - 1);
    else gap = (ln.lastEnd - textLeft - before - widths[n - 1]) / (n - 1);
  }
  let x = textLeft;
  ln.words.forEach(function (w, k) {
    graphics.push({
      type: 'text', x: x, y: ln.y,
      style: { text: w, fontSize: noteSize, fontFamily: noteFamily, fill: '#000', align: 'left', verticalAlign: 'middle' }
    });
    x += widths[k] + gap;
  });
});

// red highlight box around the update period
graphics.push({
  type: 'rect', z: 100,
  shape: { x: 48, y: 6.5, width: 127.5, height: 1098 },
  style: { fill: 'none', stroke: '#f01010', lineWidth: 3 }
});

const chart = echarts.init(document.getElementById('chart'), null, { renderer: 'canvas' });
chart.setOption({
  animation: false,
  backgroundColor: '#fff',
  grid: grid,
  xAxis: xAxis,
  yAxis: yAxis,
  series: series,
  graphic: { elements: graphics }
});
</script>
</body>
</html>
